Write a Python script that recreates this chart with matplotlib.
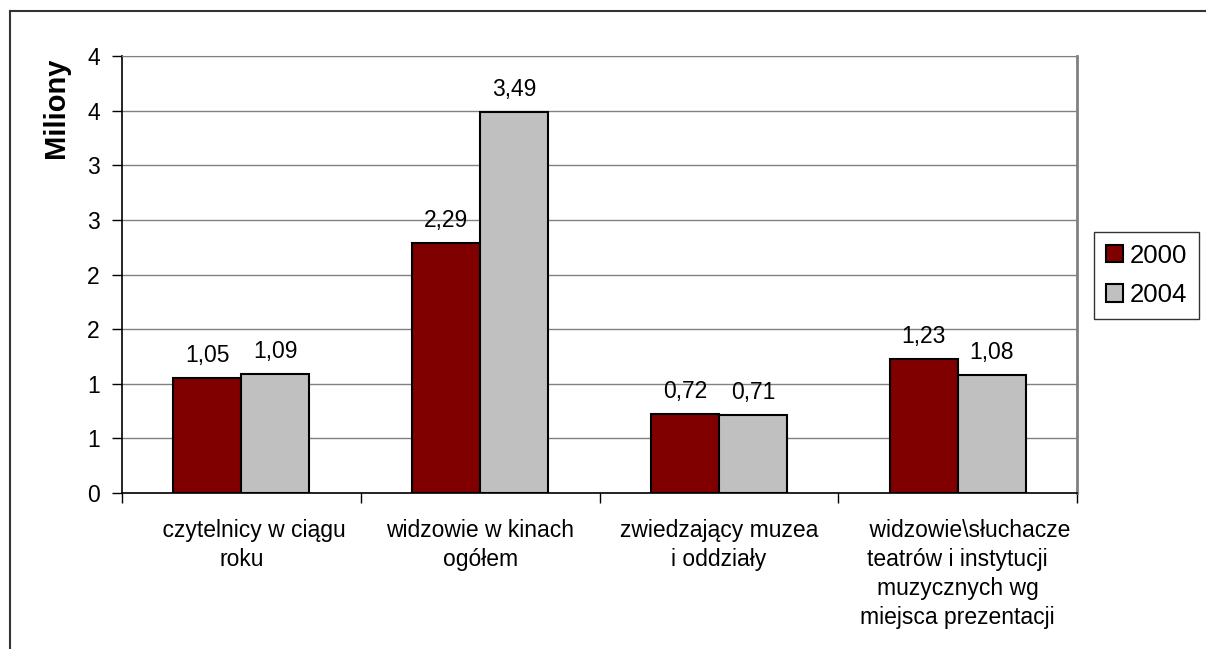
import matplotlib
matplotlib.use("Agg")
import matplotlib.pyplot as plt
from matplotlib.lines import Line2D
from matplotlib.ticker import FixedLocator, FixedFormatter

plt.rcParams['font.family'] = ['Liberation Sans', 'DejaVu Sans']

categories = [
    "    czytelnicy w ciągu\nroku",
    "widzowie w kinach\nogółem",
    "zwiedzający muzea\ni oddziały",
    "    widzowie\\słuchacze\nteatrów i instytucji\nmuzycznych wg\nmiejsca prezentacji",
]
years = ["2000", "2004"]
values_2000 = [1.05, 2.29, 0.72, 1.23]
values_2004 = [1.09, 3.49, 0.71, 1.08]
ytick_values = [0, 0.5, 1, 1.5, 2, 2.5, 3, 3.5, 4]
ytick_labels = ["0", "1", "1", "2", "2", "3", "3", "4", "4"]

colors = ["#800000", "#C0C0C0"]
fs = 16.5

fig = plt.figure(figsize=(12.06, 6.49), dpi=100)
ax = fig.add_axes([122 / 1206, 1 - 493 / 649, (1077 - 122) / 1206, (493 - 56) / 649])

width = 0.285
x = list(range(len(categories)))
series = [values_2000, values_2004]
for i, (vals, col, yr) in enumerate(zip(series, colors, years)):
    pos = [xi + (i - 0.5) * width for xi in x]
    bars = ax.bar(pos, vals, width, color=col, edgecolor="black", linewidth=1.5,
                  label=yr, zorder=3)
    for b, v in zip(bars, vals):
        ax.annotate(f"{v:.2f}".replace(".", ","),
                    (b.get_x() + b.get_width() / 2, b.get_height()),
                    xytext=(0, 11.5), textcoords="offset points",
                    ha="center", va="baseline", fontsize=fs)

ax.set_xlim(-0.5, len(categories) - 0.5)
ax.set_ylim(0, 4)
ax.yaxis.set_major_locator(FixedLocator(ytick_values))
ax.yaxis.set_major_formatter(FixedFormatter(ytick_labels))
ax.grid(axis="y", color="#808080", linewidth=1, zorder=0)

ax.set_xticks(x)
ax.set_xticklabels(categories, fontsize=fs, linespacing=1.33)
ax.set_xticks([-0.5 + k for k in range(len(categories) + 1)], minor=True)
ax.tick_params(axis="x", which="major", length=0, pad=19)
ax.tick_params(axis="x", which="minor", length=7, width=1, direction="out")
ax.tick_params(axis="y", length=7, width=1, labelsize=fs, pad=9)

for s in ["left", "bottom"]:
    ax.spines[s].set_color("black")
    ax.spines[s].set_linewidth(1.2)
ax.spines["top"].set_color("#808080")
ax.spines["right"].set_color("#808080")
ax.spines["right"].set_linewidth(2)

fig.text(56 / 1206, 1 - 108 / 649, "Miliony", rotation=90, fontsize=21,
         fontweight="bold", ha="center", va="center")

leg = fig.legend(loc="upper left", bbox_to_anchor=(1094 / 1206, 1 - 232 / 649),
                 fontsize=18.5, frameon=True, fancybox=False, borderpad=0.45,
                 handlelength=0.66, handleheight=0.66, handletextpad=0.3,
                 labelspacing=0.6, borderaxespad=0)
leg.get_frame().set_edgecolor("black")
leg.get_frame().set_linewidth(1)

# chart area border
fig.add_artist(Line2D([10 / 1206, 1], [1 - 11 / 649] * 2, color="#333333", lw=1.5))
fig.add_artist(Line2D([10 / 1206] * 2, [0, 1 - 11 / 649], color="#333333", lw=1.5))

fig.savefig("out.png", dpi=100)
